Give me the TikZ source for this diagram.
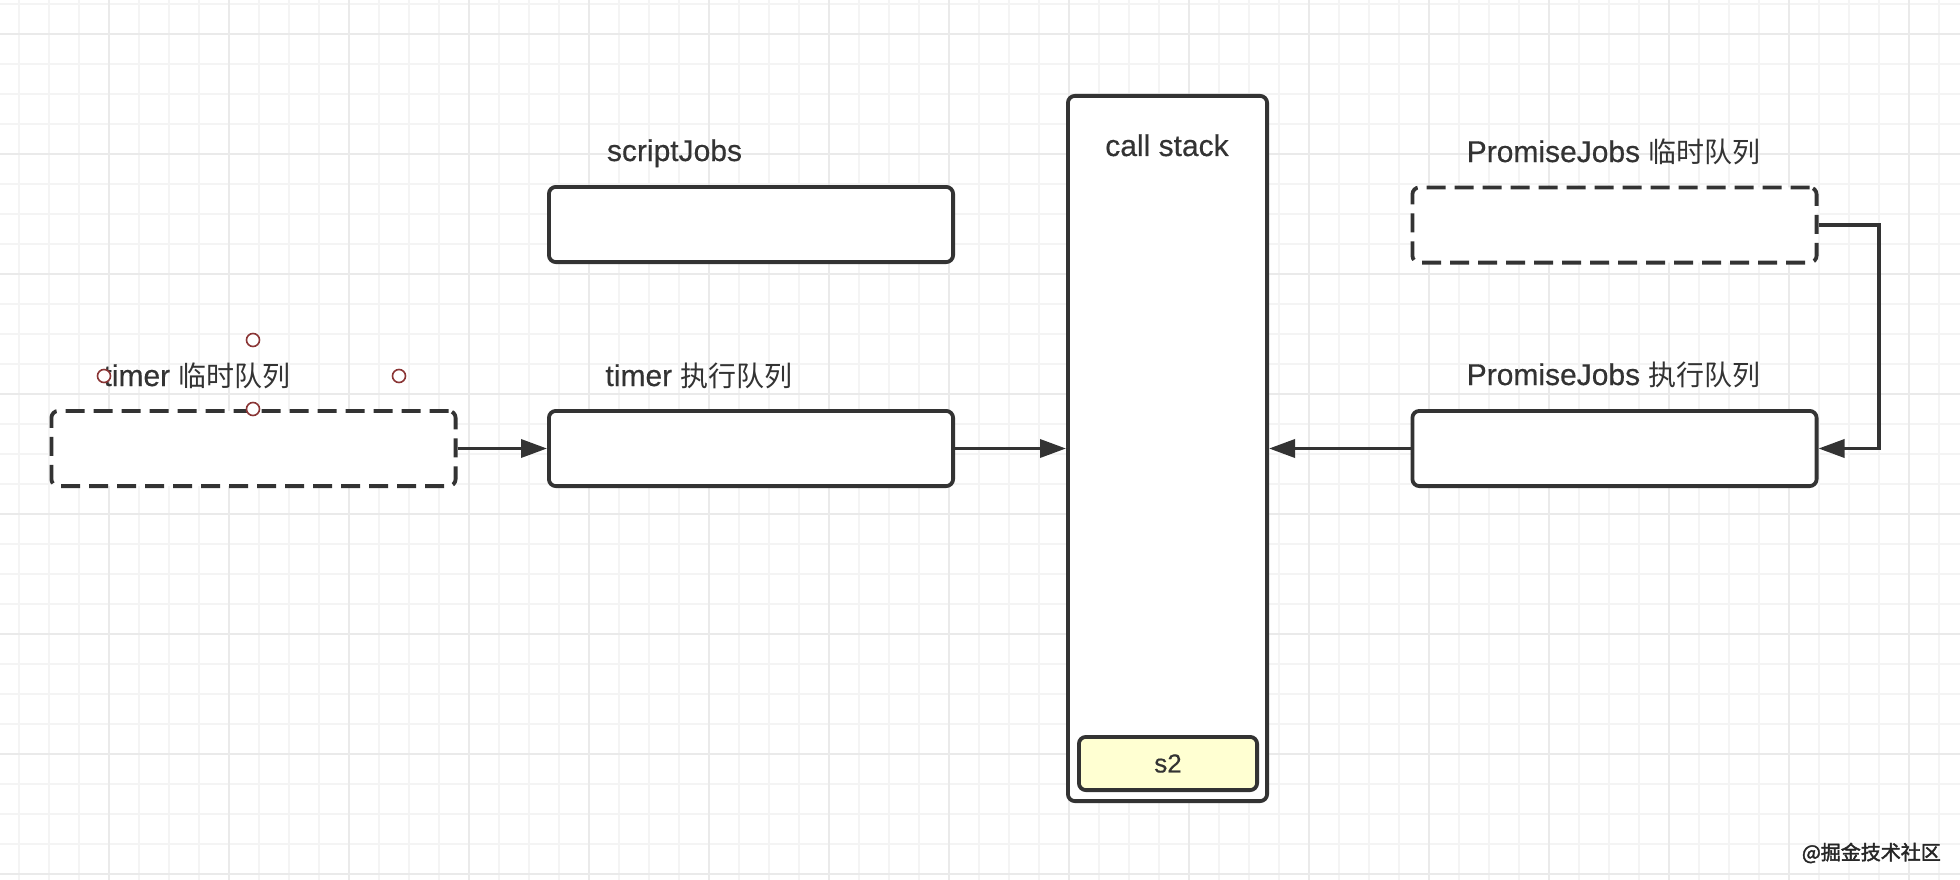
\documentclass[tikz,border=0pt]{standalone}
\usepackage{fontspec}
\setmainfont{Liberation Sans}[FakeBold=0.4]
\newfontfamily\cjkfont{Noto Sans CJK SC}
\newfontfamily\wmfont[FakeBold=2]{Noto Sans CJK SC}
\usetikzlibrary{arrows.meta}
\definecolor{ink}{HTML}{333333}
\definecolor{gridminor}{HTML}{F4F4F4}
\definecolor{gridmajor}{HTML}{EAEAEA}
\definecolor{sfill}{HTML}{FFFFD2}
\definecolor{hred}{HTML}{8A3535}
\newcommand\cjktext[1]{{\cjkfont\fontsize{28}{34}\selectfont #1}}
\begin{document}
\begin{tikzpicture}[x=1pt,y=-1pt,
  qbox/.style={draw=ink, line width=3.8pt, rounded corners=7pt, fill=white, minimum width=404.2pt, minimum height=75.2pt, inner sep=0pt},
  dbox/.style={qbox, dash pattern=on 19pt off 9pt},
  lbl/.style={text=ink, font=\fontsize{30}{36}\selectfont, inner sep=0pt, anchor=base},
  conn/.style={draw=ink, line width=3.5pt, -{Triangle[length=26pt,width=18pt]}},
  handle/.style={circle, draw=hred, fill=white, line width=1.6pt, minimum size=13pt, inner sep=0pt}]
\useasboundingbox (0,0) rectangle (1960,880);
\fill[white] (0,0) rectangle (1960,880);
% grid
\foreach \x in {19,49,...,1960} \draw[gridminor, line width=2pt] (\x,0) -- (\x,880);
\foreach \y in {4,34,...,880} \draw[gridminor, line width=2pt] (0,\y) -- (1960,\y);
\foreach \x in {109,229,...,1960} \draw[gridmajor, line width=2pt] (\x,0) -- (\x,880);
\foreach \y in {34,154,...,880} \draw[gridmajor, line width=2pt] (0,\y) -- (1960,\y);
% boxes
\node[dbox] (tdash) at (253.5,448.5) {};
\node[qbox] (texec) at (751,448.5) {};
\node[qbox] (sjobs) at (751,224.5) {};
\node[draw=ink, line width=3.8pt, rounded corners=7pt, fill=white, minimum width=199.2pt, minimum height=705.2pt, inner sep=0pt] (cstack) at (1167.5,448.5) {};
\node[draw=ink, line width=3.8pt, rounded corners=7pt, fill=sfill, minimum width=178.2pt, minimum height=53.2pt, inner sep=0pt, text=ink, font=\fontsize{26}{30}\selectfont] (s2) at (1168,763.5) {s2};
\node[dbox] (pdash) at (1614.5,225) {};
\node[qbox] (pexec) at (1614.5,448.5) {};
% labels
\node[lbl] (lsj) at (674.5,161) {scriptJobs};
\node[lbl] (ltexec) at (699,386) {timer \cjktext{执行队列}};
\node[lbl] (ltdash) at (197,386) {timer \cjktext{临时队列}};
\node[lbl] (lcs) at (1167,156) {call stack};
\node[lbl] (lpdash) at (1613.6,162) {PromiseJobs \cjktext{临时队列}};
\node[lbl] (lpexec) at (1613.6,385) {PromiseJobs \cjktext{执行队列}};
% connectors
\draw[conn] (tdash.east) -- (texec.west);
\draw[conn] (texec.east) -- (texec.east -| cstack.west);
\draw[conn] (pexec.west) -- (pexec.west -| cstack.east);
\coordinate (bendx) at (1879,226);
\draw[conn] (pdash.east) -- (pdash.east -| bendx) |- (pexec.east);
% selection handles
\node[handle] (h1) at (253,340) {};
\node[handle] (h2) at (104,376) {};
\node[handle] (h3) at (399,376) {};
\node[handle] (h4) at (253,409) {};
% watermark
\node[text=black!85, font=\wmfont\fontsize{20}{24}\selectfont, anchor=east, inner sep=0pt] (wm) at (1941,853) {@掘金技术社区};
\end{tikzpicture}
\end{document}
